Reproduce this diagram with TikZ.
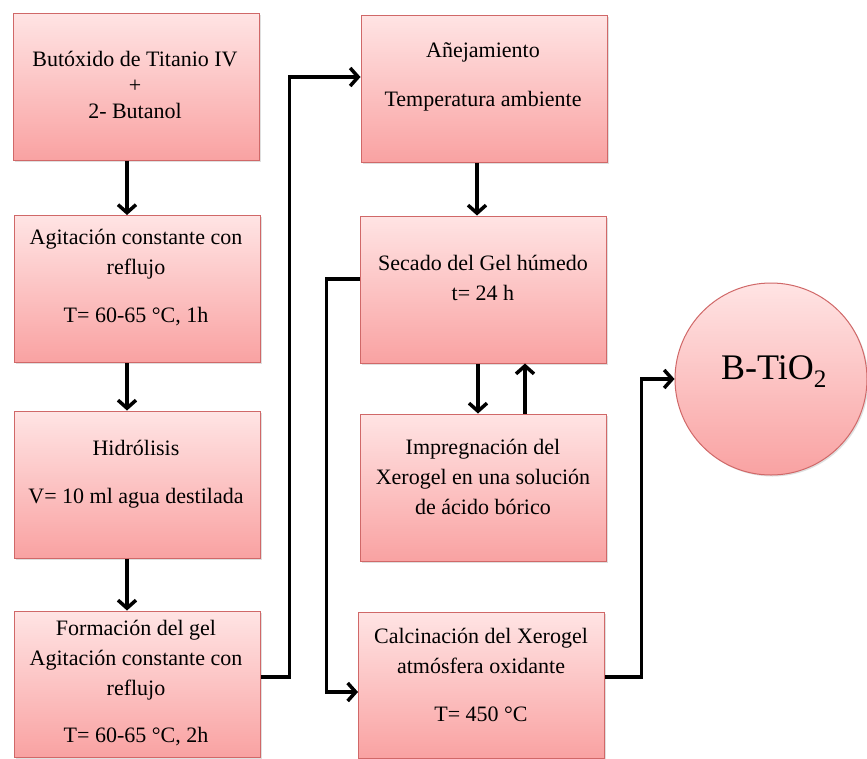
\documentclass[tikz,border=0pt]{standalone}
\usepackage{fontspec}
\setmainfont{Liberation Serif}
\usetikzlibrary{arrows.meta,calc,shadows}
\definecolor{pktop}{RGB}{255,228,228}
\definecolor{pkbot}{RGB}{249,162,162}
\definecolor{pkline}{RGB}{208,104,104}
\tikzset{
  stepbox/.style={draw=pkline, line width=1pt, top color=pktop, bottom color=pkbot,
    minimum width=246pt, minimum height=146pt, inner sep=0pt,
    drop shadow={opacity=0.25, shadow xshift=1.5pt, shadow yshift=-1.5pt}},
  txt/.style={align=center, inner sep=0pt, font=\fontsize{22}{30}\selectfont, text=black},
  arr/.style={line width=3.5pt, -{Straight Barb[length=8pt,width=18pt,line width=3.5pt]}}
}
\begin{document}
\begin{tikzpicture}[x=1pt,y=-1pt]
\useasboundingbox[fill=white] (0,0) rectangle (867,758);
% left column
\node[stepbox, minimum height=147pt] (b1) at (136,86.5) {};
\node[stepbox, minimum height=147pt] (b2) at (137.5,289) {};
\node[stepbox, minimum height=147pt] (b3) at (137.5,484.5) {};
\node[stepbox, minimum height=146pt] (b4) at (137.5,684) {};
% right column
\node[stepbox, minimum height=147pt] (bA) at (484,88.5) {};
\node[stepbox, minimum height=147pt] (bB) at (483,289.5) {};
\node[stepbox, minimum height=147pt] (bC) at (483,487.5) {};
\node[stepbox, minimum height=146pt] (bD) at (481.5,685) {};
% circle
\node[draw=pkline, line width=1pt, circle, minimum size=192pt, inner sep=0pt,
  top color=pktop, bottom color=pkbot,
  drop shadow={opacity=0.25, shadow xshift=1.5pt, shadow yshift=-1.5pt}] (circ) at (771,379) {};
% texts
\node[txt] (t1) at (135,85) {Butóxido de Titanio IV\\[-4pt]+\\[-4pt]2- Butanol};
\node[txt] (t2) at (136,278) {Agitación constante con\\reflujo\\[18pt]T= 60-65 °C, 1h};
\node[txt] (t3) at (136,474) {Hidrólisis\\[18pt]V= 10 ml agua destilada};
\node[txt] (t4) at (136,683) {Formación del gel\\Agitación constante con\\reflujo\\[17pt]T= 60-65 °C, 2h};
\node[txt] (tA) at (483,77) {Añejamiento\\[19pt]Temperatura ambiente};
\node[txt] (tB) at (483,278) {Secado del Gel húmedo\\t= 24 h};
\node[txt] (tC) at (483,477) {Impregnación del\\Xerogel en una solución\\de ácido bórico};
\node[txt] (tD) at (481,675) {Calcinación del Xerogel\\atmósfera oxidante\\[18pt]T= 450 °C};
\node[font=\fontsize{36}{40}\selectfont, inner sep=0pt] (tc) at (774,372) {B-TiO\textsubscript{2}};
% connectors
\draw[arr] ($(b1.south)+(-9,0)$) -- ($(b2.north)+(-10.5,0)$);
\draw[arr] ($(b2.south)+(-10.5,0)$) -- ($(b3.north)+(-10.5,0)$);
\draw[arr] ($(b3.south)+(-10.5,0)$) -- ($(b4.north)+(-10.5,0)$);
\draw[arr] ($(b4.east)+(0,-7)$) -| ($(bA.west)+(-71,-11.5)$) -- ($(bA.west)+(0,-11.5)$);
\draw[arr] ($(bA.south)+(-7,0)$) -- ($(bB.north)+(-6,0)$);
\draw[arr] ($(bB.south)+(-5,0)$) -- ($(bC.north)+(-5,0)$);
\draw[arr] ($(bC.north)+(42,0)$) -- ($(bB.south)+(42,0)$);
\draw[arr] ($(bB.west)+(0,-10.5)$) -- ++(-33,0) |- ($(bD.west)+(0,7)$);
\draw[arr] ($(bD.east)+(0,-8)$) -| ($(circ.west)+(-33,0)$) -- (circ.west);
\end{tikzpicture}
\end{document}
